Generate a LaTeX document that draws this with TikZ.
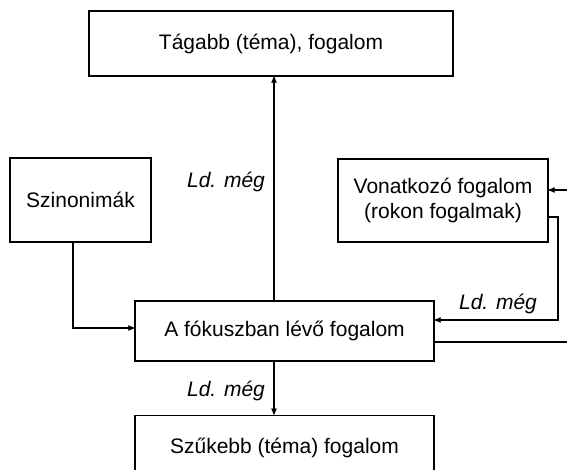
\documentclass[tikz,border=0pt]{standalone}
\usepackage{fontspec}
\setmainfont{Liberation Sans}
\usepackage{tikz}
\usetikzlibrary{arrows, positioning}
\tikzset{
		box/.style={draw, inner sep=0pt, align=center},
		seealso/.style={font=\fontsize{21}{25}\selectfont\itshape}
	}

\begin{document}
\begin{tikzpicture}[x=1pt, y=-1pt, >=stealth', line width=1.2pt, font=\fontsize{21}{25}\selectfont]
					\clip (0,0) rectangle (567,469);
					\node[box, minimum width=364pt, minimum height=65pt] (broad) at (271,43.5)  {Tágabb (téma), fogalom};
					\node[box, minimum width=141pt, minimum height=84pt] (syn)   at (80.5,200)  {Szinonimák};
					\node[box, minimum width=210pt, minimum height=83pt] (rel)   at (443,200.5) {Vonatkozó fogalom\\(rokon fogalmak)};
					\node[box, minimum width=299pt, minimum height=60pt] (focus) at (284.5,331) {A fókuszban lévő fogalom};
					\node[box, minimum width=299pt, minimum height=66pt] (narrow) [below=53pt of focus] {Szűkebb (téma) fogalom};

					\coordinate (spine) at (274,0);
					\coordinate (relin) at (567,190);
					\coordinate (relbend) at (558,320);
					\coordinate (focusout) at (567,342);

					\draw[->] (spine |- focus.north) -- (spine |- broad.south);
					\draw[->] (spine |- focus.south) -- (spine |- narrow.north);
					\draw[->] ([xshift=-7.5pt]syn.south) |- (focus.west |- 0,328);
					\draw[->] (relin) -- (relin -| rel.east);
					\draw[->] ([yshift=-16.5pt]rel.east) -| (relbend) -- (relbend -| focus.east);
					\draw (focusout -| focus.east) -- (focusout);

					\node[seealso] (seeup)    at (226,182) {Ld. még};
					\node[seealso] (seerel)   at (498,304) {Ld. még};
					\node[seealso] (seedown)  at (226,391) {Ld. még};
				\end{tikzpicture}
\end{document}
